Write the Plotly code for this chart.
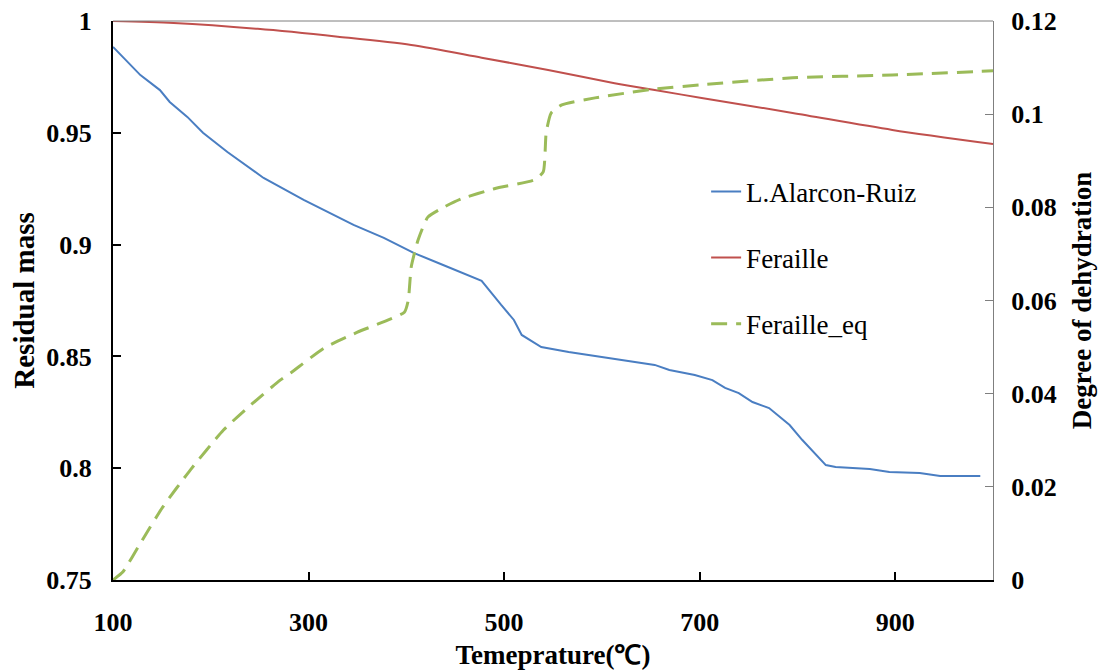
import plotly.graph_objects as go

# L.Alarcon-Ruiz residual mass (left axis)
alarcon_x = [100, 128, 148, 158, 176, 192, 217, 254, 295, 315, 346, 377, 408, 437, 466, 477,
             497, 510, 518, 538, 566, 607, 654, 669, 695, 713, 726, 740, 754, 771, 792, 805,
             829, 839, 874, 894, 925, 946, 987]
alarcon_y = [0.9884, 0.9758, 0.9691, 0.9638, 0.9571, 0.9500, 0.9414, 0.9298, 0.9200, 0.9155,
             0.9088, 0.9030, 0.8962, 0.8910, 0.8858, 0.8838, 0.8730, 0.8663, 0.8596, 0.8542,
             0.8520, 0.8493, 0.8462, 0.8439, 0.8417, 0.8394, 0.8359, 0.8336, 0.8296, 0.8269,
             0.8193, 0.8126, 0.8014, 0.8005, 0.7996, 0.7983, 0.7979, 0.7965, 0.7965]

# Feraille residual mass (left axis)
feraille_x = [100, 162, 248, 330, 405, 477, 545, 613, 654, 702, 795, 897, 1000]
feraille_y = [1.0, 0.9991, 0.9965, 0.9930, 0.9893, 0.9836, 0.9781, 0.9722, 0.9691, 0.9656,
              0.9589, 0.9513, 0.9450]

# Feraille_eq degree of dehydration (right axis)
eq_x = [100, 110, 128, 151, 179, 213, 241, 271, 282, 316, 350, 398, 402, 405, 412, 422, 439,
        456, 490, 531, 540, 543, 548, 559, 593, 654, 702, 795, 897, 1000]
eq_y = [0.0, 0.0017, 0.0079, 0.0157, 0.0236, 0.0322, 0.0376, 0.0429, 0.0445, 0.0498, 0.0532,
        0.0575, 0.0601, 0.0672, 0.0730, 0.0779, 0.0801, 0.0818, 0.0840, 0.0859, 0.0876, 0.0960,
        0.1002, 0.1020, 0.1035, 0.1054, 0.1063, 0.1078, 0.1084, 0.1093]

x_ticks = [100, 300, 500, 700, 900]
left_ticks = [0.75, 0.8, 0.85, 0.9, 0.95, 1.0]
left_labels = ["0.75", "0.8", "0.85", "0.9", "0.95", "1"]
right_ticks = [0, 0.02, 0.04, 0.06, 0.08, 0.1, 0.12]
right_labels = ["0", "0.02", "0.04", "0.06", "0.08", "0.1", "0.12"]

SERIF = "Liberation Serif, Times New Roman, serif"

fig = go.Figure()
fig.add_trace(go.Scatter(x=alarcon_x, y=alarcon_y, mode="lines", name="L.Alarcon-Ruiz",
                         line=dict(color="#4A7EC2", width=2), legendgroup="a"))
fig.add_trace(go.Scatter(x=feraille_x, y=feraille_y, mode="lines", name="Feraille",
                         line=dict(color="#C0504D", width=2, shape="spline", smoothing=0.8),
                         legendgroup="b"))
fig.add_trace(go.Scatter(x=eq_x, y=eq_y, mode="lines", name="Feraille_eq", yaxis="y2",
                         line=dict(color="#9BBB59", width=3, dash="16px,9px", shape="spline",
                                   smoothing=0.5),
                         legendgroup="c"))

fig.update_layout(
    width=1103, height=670,
    margin=dict(l=113, r=110, t=21, b=90),
    paper_bgcolor="white", plot_bgcolor="white",
    font=dict(family=SERIF, color="black"),
    showlegend=True,
    legend=dict(x=0.674, y=0.738, xanchor="left", yanchor="top",
                font=dict(family=SERIF, size=27, color="black"),
                bgcolor="rgba(0,0,0,0)", tracegroupgap=28),
    xaxis=dict(range=[100, 1000], tickvals=x_ticks, ticktext=[str(v) for v in x_ticks],
               automargin=False,
               showgrid=False, zeroline=False, showline=True, linecolor="black", linewidth=2,
               ticks="inside", ticklen=8, tickwidth=2, tickcolor="black",
               tickfont=dict(family=SERIF, size=26, weight="bold"),
               ticklabelstandoff=18,
               title=dict(text="Temeprature(℃)", font=dict(family=SERIF, size=27, weight="bold"),
                          standoff=10)),
    yaxis=dict(range=[0.75, 1.0], tickvals=left_ticks, ticktext=left_labels,
               automargin=False,
               showgrid=False, zeroline=False, showline=True, linecolor="black", linewidth=2,
               ticks="inside", ticklen=8, tickwidth=2, tickcolor="black",
               tickfont=dict(family=SERIF, size=26, weight="bold"),
               ticklabelstandoff=14,
               title=dict(text="Residual mass", font=dict(family=SERIF, size=29, weight="bold"),
                          standoff=3)),
    yaxis2=dict(range=[0, 0.12], tickvals=right_ticks, ticktext=right_labels,
                overlaying="y", side="right", automargin=False,
                showgrid=False, zeroline=False, showline=True, linecolor="#7f7f7f", linewidth=1,
                ticks="inside", ticklen=8, tickwidth=1, tickcolor="#7f7f7f",
                tickfont=dict(family=SERIF, size=26, weight="bold"),
                ticklabelstandoff=12,
                title=dict(text="Degree of dehydration",
                           font=dict(family=SERIF, size=27, weight="bold"), standoff=16)),
    shapes=[dict(type="line", xref="paper", yref="paper", x0=0, x1=1, y0=1, y1=1,
                 line=dict(color="#7f7f7f", width=1))],
)

fig.write_html("out.html")
